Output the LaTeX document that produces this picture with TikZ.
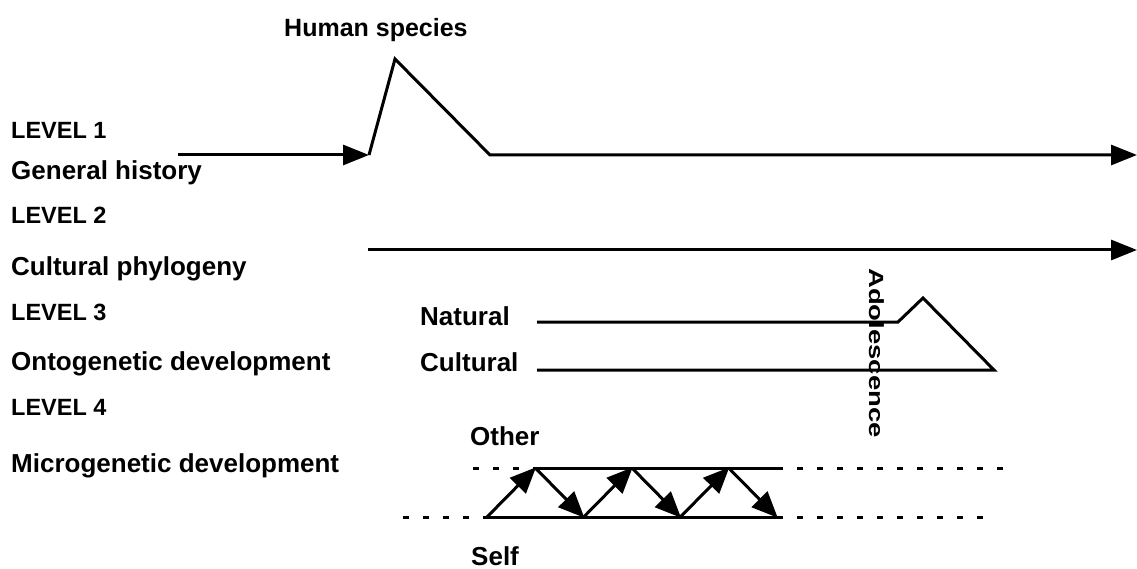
\documentclass[tikz,border=0pt]{standalone}
\usepackage{fontspec}
\setmainfont{Liberation Sans}
\usetikzlibrary{arrows.meta}
\tikzset{
  lbl/.style={font=\fontsize{26}{30}\selectfont\bfseries, anchor=base west, inner sep=0pt},
  lvl/.style={lbl, font=\fontsize{23.5}{28}\selectfont\bfseries},
  hist/.style={line width=3pt, draw=black, -{Triangle[length=26pt,width=20pt]}},
  trace/.style={line width=3pt, draw=black},
  zig/.style={line width=3pt, draw=black, -{Triangle[length=26pt,width=22pt]}, shorten >=-1pt},
  dotrow/.style={line width=3pt, draw=black, dash pattern=on 6pt off 14pt},
  vlbl/.style={font=\fontsize{20.5}{24}\selectfont\bfseries, inner sep=0pt, rotate=-90},
}
\begin{document}
\begin{tikzpicture}[x=1pt,y=-1pt]
\useasboundingbox (0,0) rectangle (1137,569);
% left column labels
\node[lvl] (lv1) at (11,139) {LEVEL 1};
\node[lbl] (gh) at (11,180) {General history};
\node[lvl] (lv2) at (11,224) {LEVEL 2};
\node[lbl] (cp) at (11,276) {Cultural phylogeny};
\node[lvl] (lv3) at (11,320) {LEVEL 3};
\node[lbl] (od) at (11,370) {Ontogenetic development};
\node[lvl] (lv4) at (11,415) {LEVEL 4};
\node[lbl] (md) at (11,472) {Microgenetic development};
% Level 1: general history
\node[lbl, font=\fontsize{25}{30}\selectfont\bfseries] (hs) at (284,37) {Human species};
\coordinate (h0) at (178,155);
\coordinate (h1) at (369,155);
\coordinate (h2) at (395,59);
\coordinate (h3) at (490,155);
\coordinate (h4) at (1137,155);
\draw[hist] (h0) -- (h1);
\draw[hist] (h1) -- (h2) -- (h3) -- (h4);
% Level 2: cultural phylogeny
\coordinate (p0) at (368,250);
\coordinate (p1) at (1137,250);
\draw[hist] (p0) -- (p1);
% Level 3: ontogenetic lines
\node[lbl] (nat) at (420,325) {Natural};
\node[lbl] (cul) at (420,371) {Cultural};
\coordinate (n0) at (537,322);
\coordinate (n1) at (898,322);
\coordinate (n2) at (923,298);
\coordinate (n3) at (994,370);
\coordinate (c0) at (537,370);
\draw[trace] (n0) -- (n1) -- (n2) -- (n3) -- (c0);
\node[vlbl] (ado) at (877,353) {\scalebox{1.34}[1]{Adolescence}};
% Level 4: microgenesis between self and other
\node[lbl] (oth) at (470,445) {Other};
\node[lbl] (slf) at (471,565) {Self};
\coordinate (tl) at (473,468);
\coordinate (tr) at (1015,468);
\coordinate (bl) at (403,517);
\coordinate (br) at (987,517);
\foreach \i in {0,2,4,6} \coordinate (z\i) at ({487+48.33*\i},517);
\foreach \i in {1,3,5} \coordinate (z\i) at ({487+48.33*\i},468);
\draw[dotrow] (tl) -- (z1);
\draw[dotrow] (z6 |- tl) -- (tr);
\draw[dotrow] (bl) -- (z0);
\draw[dotrow] (z6) -- (br);
\draw[trace] (z1) -- (z6 |- z1);
\draw[trace] (z0) -- (z6);
\foreach \a/\b in {z0/z1,z1/z2,z2/z3,z3/z4,z4/z5,z5/z6}
  \draw[zig] (\a) -- (\b);
\end{tikzpicture}
\end{document}
